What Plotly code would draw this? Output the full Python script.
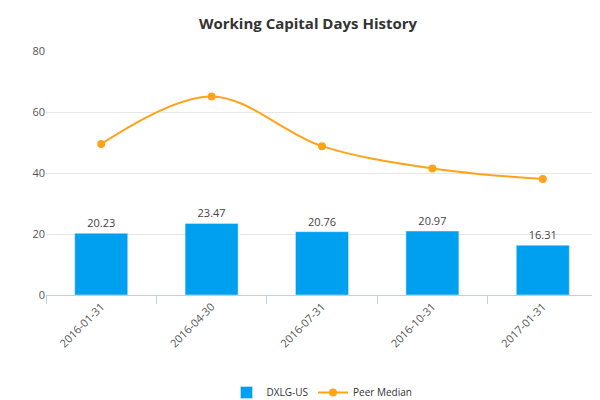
import plotly.graph_objects as go

categories = ["2016-01-31", "2016-04-30", "2016-07-31", "2016-10-31", "2017-01-31"]
dxlg = [20.23, 23.47, 20.76, 20.97, 16.31]
peer = [49.5, 65.1, 48.8, 41.5, 38.0]

fig = go.Figure()
fig.add_bar(x=categories, y=dxlg, name="DXLG-US", marker_color="#00a0f0",
            text=[f"{v:.2f}" for v in dxlg], textposition="outside",
            textfont=dict(size=11, color="#444"), width=0.48, cliponaxis=False)
fig.add_scatter(x=categories, y=peer, name="Peer Median", mode="lines+markers",
                line=dict(color="#ffa31a", width=2, shape="spline", smoothing=1.0),
                marker=dict(size=8, color="#ffa31a"))
fig.update_layout(
    width=600, height=400, plot_bgcolor="white", paper_bgcolor="white",
    margin=dict(l=38, r=10, t=43, b=113, autoexpand=False),
    title=dict(text="<b>Working Capital Days History</b>", x=0.5, y=0.96, xanchor="center",
               yanchor="middle", font=dict(size=15, color="#333", family="Open Sans")),
    font=dict(family="Open Sans", size=11, color="#555"),
    yaxis=dict(range=[0, 80], dtick=20, showgrid=True, gridcolor="#e6e6e6", zeroline=False,
               ticks="", tickfont=dict(size=11)),
    xaxis=dict(type="category", tickangle=-45, showline=True, linecolor="#c0d0e0", ticks="outside",
               tickcolor="#c0d0e0", ticklen=8, tickson="boundaries", tickfont=dict(size=11)),
    legend=dict(orientation="h", x=0.5, xanchor="center", y=-0.34, yanchor="top",
                font=dict(size=10, color="#333")),
)
fig.add_annotation(text="www.capitalcube.com", xref="paper", yref="paper", x=1.0, y=-0.41,
                   xanchor="right", yanchor="top", showarrow=False,
                   font=dict(size=10, color="#666"))
fig.write_html("out.html")
